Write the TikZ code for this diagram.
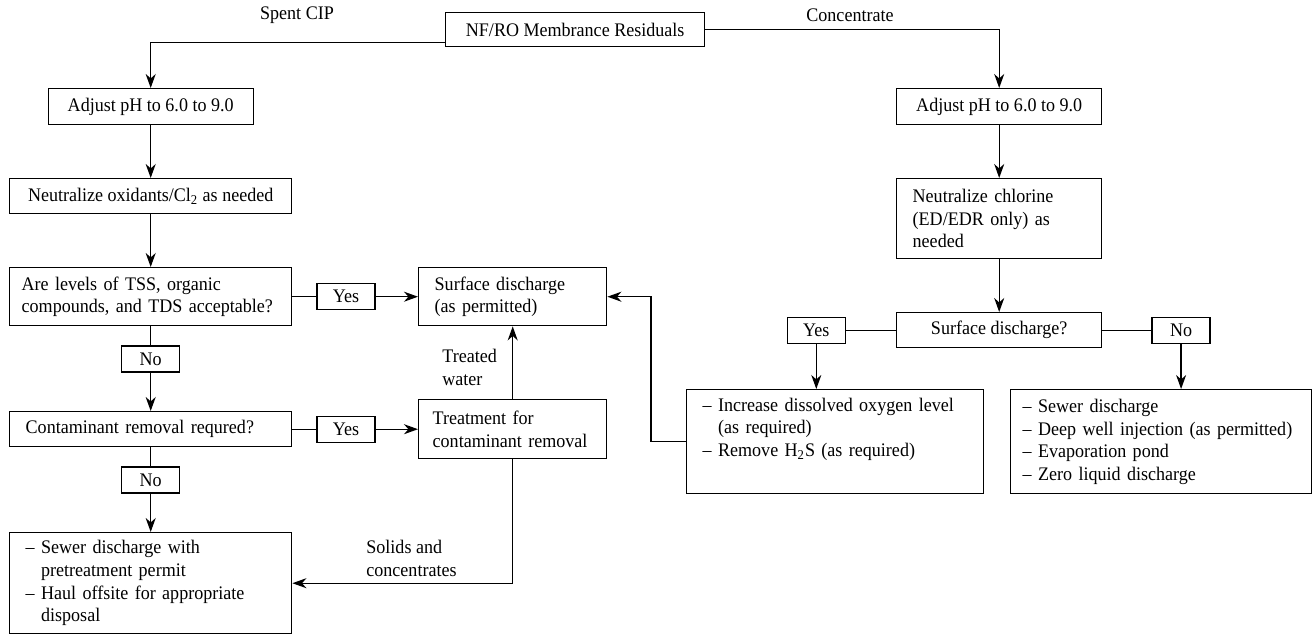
\documentclass[tikz,border=0pt]{standalone}
\usepackage{fontspec}
\setmainfont{Liberation Serif}[FakeStretch=0.94]
\usetikzlibrary{positioning,arrows.meta}
\newcommand{\diagfont}{\fontsize{9.6}{11.3}\selectfont}
\tikzset{
  block/.style={draw, line width=0.7pt, anchor=north west, inner xsep=8pt, inner ysep=0pt},
  blockLeft/.style={block, align=left},
  blockCenter/.style={block, align=center, inner xsep=0pt},
  answer/.style={draw, line width=0.7pt, inner sep=0pt, minimum width=29pt, minimum height=13pt},
  arrow/.style={-{Stealth[length=7pt, width=5pt, inset=2.2pt]}, line width=0.7pt},
  link/.style={line width=0.7pt},
  edgeLabel/.style={inner sep=0pt, align=left}
}

\begin{document}
\begin{tikzpicture}[x=0.5pt, y=-0.5pt, font=\diagfont]
  \useasboundingbox (0,0) rectangle (1314,634);
  \node[blockCenter, minimum width=129.5pt, minimum height=17pt] (residuals) at (445,12) {NF/RO Membrance Residuals};
  \node[blockCenter, minimum width=102.5pt, minimum height=18pt] (adjL) at (47.5,88) {Adjust pH to 6.0 to 9.0};
  \node[blockCenter, minimum width=141pt, minimum height=17.5pt] (neutL) at (9,178) {Neutralize oxidants/Cl\textsubscript{2} as needed};
  \node[blockLeft, inner xsep=6pt, text width=129pt, minimum height=29pt] (levels) at (9,267) {Are levels of TSS, organic\\compounds, and TDS acceptable?};
  \node[blockLeft, text width=78pt, minimum height=29pt] (surf) at (418,267) {Surface discharge\\(as permitted)};
  \node[blockLeft, text width=125pt, minimum height=17.5pt] (contam) at (9,411) {Contaminant removal requred?};
  \node[blockLeft, inner xsep=7pt, text width=80pt, minimum height=29.5pt] (treat) at (418,399) {Treatment for\\contaminant removal};
  \node[blockLeft, text width=125pt, minimum height=50.5pt] (sewerL) at (9,532) {-- Sewer discharge with\\\phantom{-- }pretreatment permit\\-- Haul offsite for appropriate\\\phantom{-- }disposal};
  \node[blockCenter, minimum width=102.5pt, minimum height=18pt] (adjR) at (896,88) {Adjust pH to 6.0 to 9.0};
  \node[blockLeft, text width=86.5pt, minimum height=40pt] (neutR) at (896,178) {Neutralize chlorine\\(ED/EDR only) as\\needed};
  \node[blockCenter, minimum width=102.5pt, minimum height=17.5pt] (surfQ) at (896,312) {Surface discharge?};
  \node[blockLeft, text width=132.5pt, minimum height=52pt] (oxygen) at (686,389) {-- Increase dissolved oxygen level\\\phantom{-- }(as required)\\-- Remove H\textsubscript{2}S (as required)\\\strut};
  \node[blockLeft, inner xsep=6pt, text width=138.5pt, minimum height=52pt] (disposal) at (1010,389) {-- Sewer discharge\\-- Deep well injection (as permitted)\\-- Evaporation pond\\-- Zero liquid discharge};

  \node[answer, right=12pt of levels] (yesA) {Yes};
  \node[answer, below=9.5pt of levels] (noA) {No};
  \node[answer, right=12pt of contam] (yesB) {Yes};
  \node[answer, below=9.5pt of contam] (noB) {No};
  \node[answer, left=25pt of surfQ] (yesR) {Yes};
  \node[answer, right=24.5pt of surfQ] (noR) {No};

  \node[edgeLabel] (spent) at (297,15) {Spent CIP};
  \node[edgeLabel] (conc) at (850,15) {Concentrate};
  \node[edgeLabel, anchor=west] (treated) at (442,367.5) {Treated\\water};
  \node[edgeLabel, anchor=west] (solids) at (366,558.5) {Solids and\\concentrates};

  \draw[arrow] ([yshift=-6.5pt]residuals.west) -| (adjL.north);
  \draw[arrow] (residuals.east) -| (adjR.north);
  \draw[arrow] (adjL) -- (neutL);
  \draw[arrow] (neutL) -- (levels);
  \draw[link] (levels.east) -- (yesA.west);
  \draw[arrow] (yesA.east) -- (surf.west);
  \draw[link] (levels.south) -- (noA.north);
  \draw[arrow] (noA.south) -- (contam.north);
  \draw[link] (contam.east) -- (yesB.west);
  \draw[arrow] (yesB.east) -- (treat.west);
  \draw[link] (contam.south) -- (noB.north);
  \draw[arrow] (noB.south) -- (sewerL.north);
  \draw[arrow] (treat.north) -- (surf.south);
  \draw[arrow] (treat.south) |- (sewerL.east);
  \draw[arrow] (adjR) -- (neutR);
  \draw[arrow] (neutR) -- (surfQ);
  \draw[link] (surfQ.west) -- (yesR.east);
  \draw[link] (surfQ.east) -- (noR.west);
  \draw[arrow] (yesR.south) -- (yesR.south |- oxygen.north);
  \draw[arrow] (noR.south) -- (noR.south |- disposal.north);
  \draw[arrow] (oxygen.west) -- ++(-35,0) |- (surf.east);
\end{tikzpicture}
\end{document}
